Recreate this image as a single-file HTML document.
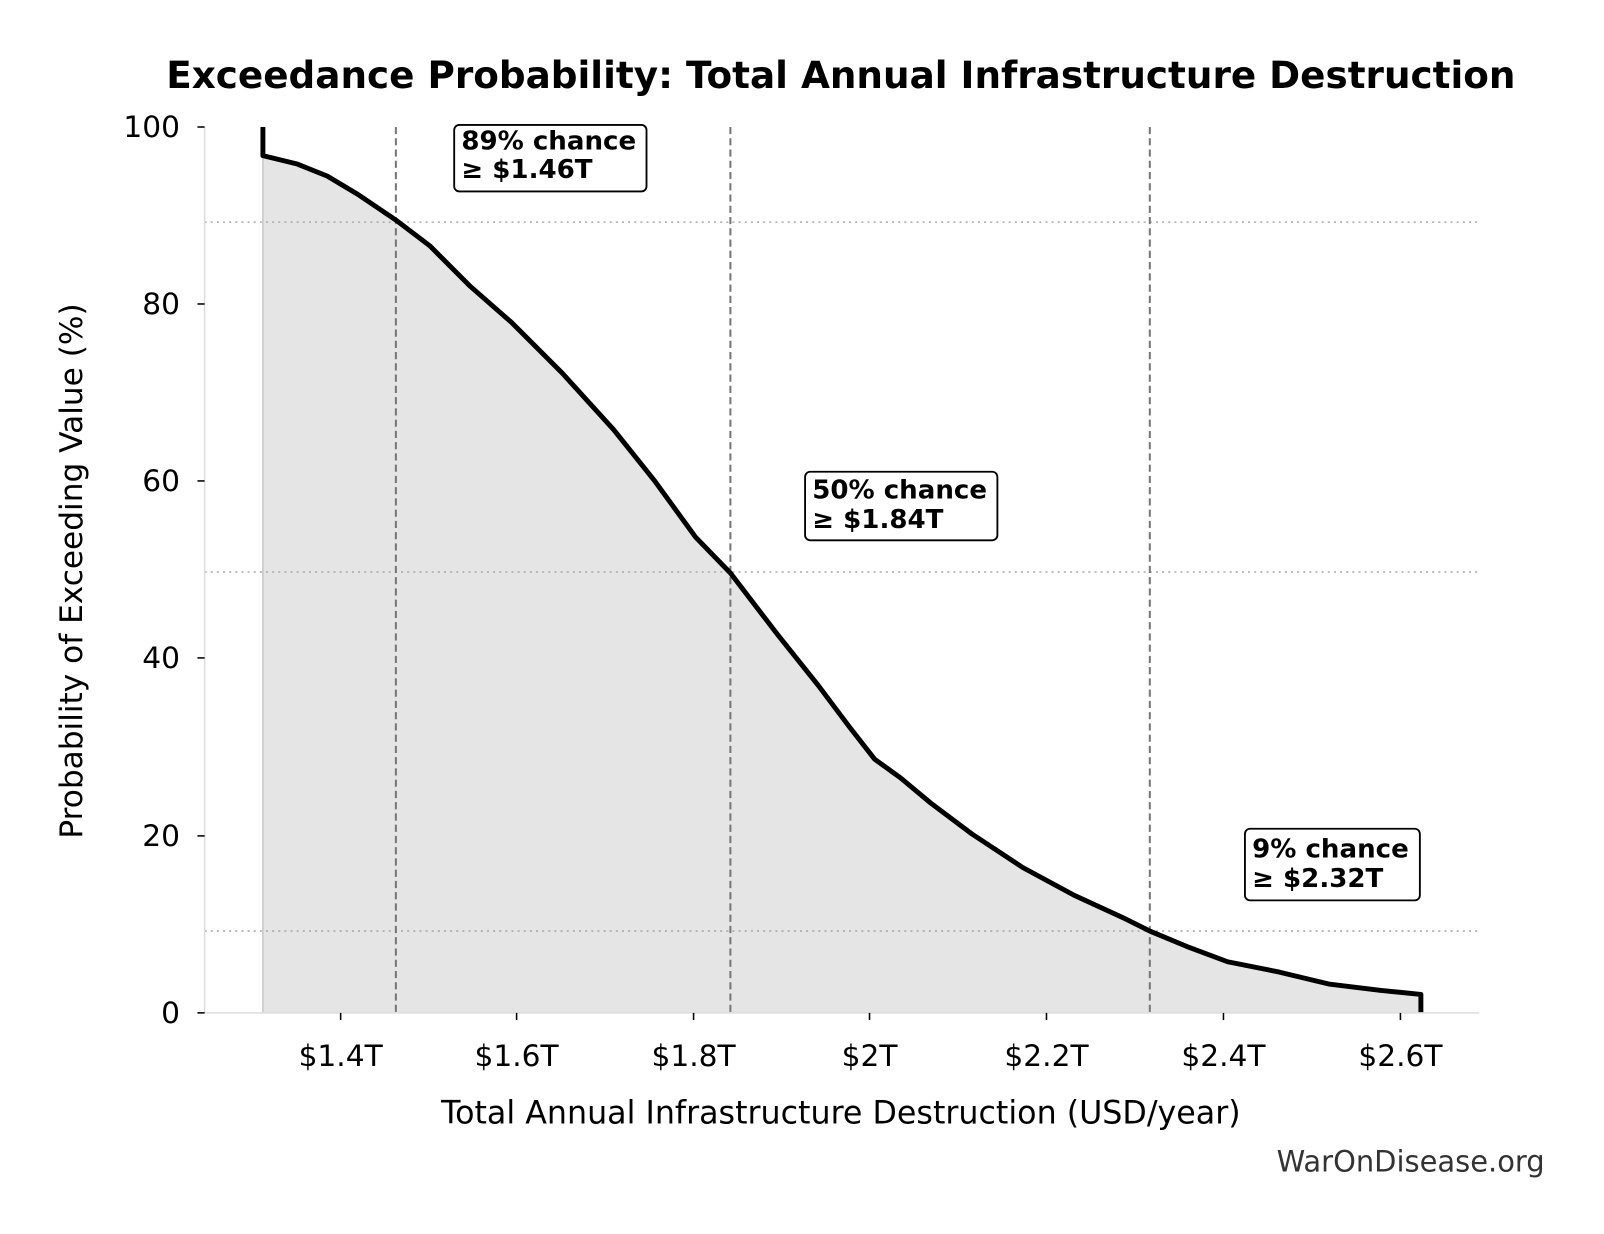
<!DOCTYPE html>
<html><head><meta charset="utf-8"><style>html,body{margin:0;padding:0;background:#fff}svg{display:block}</style></head>
<body>
<svg width="1604" height="1234" viewBox="0 0 1568 1206" xmlns="http://www.w3.org/2000/svg" font-family="'DejaVu Sans','Liberation Sans',sans-serif">
<rect width="1568" height="1206" fill="#fff"/>
<text x="822" y="86" font-size="36.5" font-weight="bold" text-anchor="middle">Exceedance Probability: Total Annual Infrastructure Destruction</text>
<path d="M257,990 L257,124 L257,152 L290,160 L320,172 L350,190 L387,215 L420,240 L460,280 L500,315 L550,365 L600,420 L640,470 L680,525 L714,560 L760,620 L800,670 L830,710 L855,742 L880,760 L910,785 L950,815 L1000,848 L1050,875 L1100,898 L1124,910 L1160,925 L1200,940 L1250,950 L1300,962 L1350,968 L1389,972 L1389,990 Z" fill="#e5e5e5"/>
<line x1="257" y1="152" x2="257" y2="990" stroke="#c8c8c8" stroke-width="1.5"/>
<g stroke="#aaa" stroke-width="1.5" stroke-dasharray="2,4">
<line x1="200" y1="217" x2="1446" y2="217"/>
<line x1="200" y1="559" x2="1446" y2="559"/>
<line x1="200" y1="910" x2="1446" y2="910"/>
</g>
<g stroke="#777" stroke-width="2" stroke-dasharray="7,4">
<line x1="387" y1="124" x2="387" y2="990"/>
<line x1="714" y1="124" x2="714" y2="990"/>
<line x1="1124" y1="124" x2="1124" y2="990"/>
</g>
<path d="M257,124 L257,152 L290,160 L320,172 L350,190 L387,215 L420,240 L460,280 L500,315 L550,365 L600,420 L640,470 L680,525 L714,560 L760,620 L800,670 L830,710 L855,742 L880,760 L910,785 L950,815 L1000,848 L1050,875 L1100,898 L1124,910 L1160,925 L1200,940 L1250,950 L1300,962 L1350,968 L1389,972 L1389,990" fill="none" stroke="#000" stroke-width="4.8" stroke-linejoin="round"/>
<line x1="200" y1="124" x2="200" y2="990" stroke="#ddd" stroke-width="1.5"/>
<line x1="200" y1="990" x2="1446" y2="990" stroke="#ddd" stroke-width="1.5"/>
<g stroke="#000" stroke-width="1.5">
<line x1="193" y1="990" x2="200" y2="990"/><line x1="193" y1="817" x2="200" y2="817"/><line x1="193" y1="643" x2="200" y2="643"/><line x1="193" y1="470" x2="200" y2="470"/><line x1="193" y1="297" x2="200" y2="297"/><line x1="193" y1="124" x2="200" y2="124"/>
<line x1="333" y1="990" x2="333" y2="997"/><line x1="505" y1="990" x2="505" y2="997"/><line x1="678" y1="990" x2="678" y2="997"/><line x1="850" y1="990" x2="850" y2="997"/><line x1="1023" y1="990" x2="1023" y2="997"/><line x1="1196" y1="990" x2="1196" y2="997"/><line x1="1369" y1="990" x2="1369" y2="997"/>
</g>
<g font-size="29" text-anchor="end">
<text x="176" y="1000">0</text><text x="176" y="827">20</text><text x="176" y="653">40</text><text x="176" y="480">60</text><text x="176" y="307">80</text><text x="176" y="134">100</text>
</g>
<g font-size="29" text-anchor="middle">
<text x="333" y="1042">$1.4T</text><text x="505" y="1042">$1.6T</text><text x="678" y="1042">$1.8T</text><text x="850" y="1042">$2T</text><text x="1023" y="1042">$2.2T</text><text x="1196" y="1042">$2.4T</text><text x="1369" y="1042">$2.6T</text>
</g>
<text x="822" y="1098" font-size="31" text-anchor="middle">Total Annual Infrastructure Destruction (USD/year)</text>
<text transform="translate(80,558) rotate(-90)" font-size="30.5" text-anchor="middle">Probability of Exceeding Value (%)</text>
<text x="1510" y="1145" font-size="28.3" text-anchor="end" fill="#333">WarOnDisease.org</text>
<g font-size="25.5" font-weight="bold">
<rect x="444" y="122" width="188" height="65" rx="5" fill="#fff" stroke="#000" stroke-width="1.8"/>
<text x="451" y="146">89% chance</text><text x="451" y="174">≥ $1.46T</text>
<rect x="787" y="461" width="188" height="67" rx="5" fill="#fff" stroke="#000" stroke-width="1.8"/>
<text x="794" y="487">50% chance</text><text x="794" y="516">≥ $1.84T</text>
<rect x="1217" y="810" width="171" height="70" rx="5" fill="#fff" stroke="#000" stroke-width="1.8"/>
<text x="1224" y="838">9% chance</text><text x="1224" y="867">≥ $2.32T</text>
</g>
</svg>
</body></html>
